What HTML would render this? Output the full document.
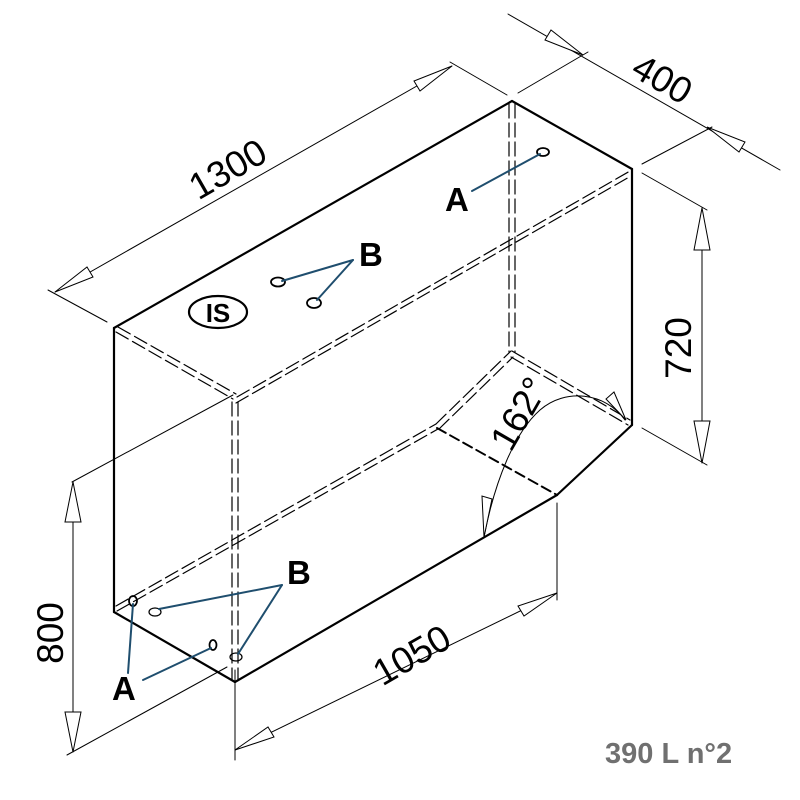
<!DOCTYPE html>
<html><head><meta charset="utf-8"><style>
html,body{margin:0;padding:0;background:#fff;}
svg{display:block;}
.t{font-family:"Liberation Sans",sans-serif;}
</style></head><body>
<svg width="800" height="800" viewBox="0 0 800 800" xmlns="http://www.w3.org/2000/svg">
<g fill="none" stroke="#000" stroke-linecap="round">
<g stroke-width="2.2">
<line x1="114" y1="328" x2="512" y2="101"/>
<line x1="512" y1="101" x2="632" y2="169"/>
<line x1="114" y1="328" x2="114" y2="612"/>
<line x1="632" y1="169" x2="632" y2="425"/>
<line x1="114" y1="612" x2="235" y2="682"/>
<line x1="235" y1="682" x2="557" y2="495"/>
<line x1="557" y1="495" x2="632" y2="425"/>
</g>
<g stroke-width="1.2" stroke-dasharray="14,5">
<line x1="116" y1="332" x2="233" y2="399"/>
<line x1="118" y1="327" x2="236" y2="394"/>
<line x1="237" y1="397" x2="630" y2="171"/>
<line x1="236" y1="403" x2="631" y2="176"/>
<line x1="232" y1="402" x2="232" y2="680"/>
<line x1="238" y1="402" x2="238" y2="680"/>
<line x1="509" y1="104" x2="509" y2="352"/>
<line x1="515" y1="104" x2="515" y2="352"/>
<line x1="116" y1="606" x2="436" y2="424"/>
<line x1="117" y1="611" x2="438" y2="429"/>
<line x1="436" y1="424" x2="511" y2="351"/>
<line x1="439" y1="429" x2="513" y2="357"/>
<line x1="512" y1="351" x2="630" y2="420"/>
<line x1="511" y1="357" x2="628" y2="425"/>
</g>
<line x1="437" y1="428" x2="557" y2="495" stroke-width="2" stroke-dasharray="10,5"/>
<g stroke-width="1">
<line x1="48" y1="290" x2="107" y2="322"/>
<line x1="450" y1="62" x2="507" y2="95"/>
<line x1="55" y1="292" x2="452" y2="66"/>
<line x1="518" y1="93" x2="588" y2="52"/>
<line x1="642" y1="164" x2="712" y2="127"/>
<line x1="508" y1="14" x2="780" y2="170"/>
<line x1="642" y1="173" x2="707" y2="210"/>
<line x1="642" y1="428" x2="707" y2="465"/>
<line x1="702" y1="208" x2="702" y2="463"/>
<line x1="72" y1="482" x2="233" y2="395"/>
<line x1="67" y1="755" x2="227" y2="667"/>
<line x1="73" y1="482" x2="73" y2="752"/>
<line x1="235" y1="670" x2="235" y2="760"/>
<line x1="557" y1="503" x2="557" y2="600"/>
<line x1="235" y1="750" x2="557" y2="593"/>
<path d="M625 420 C605 392 565 388 540 410 C515 432 495 480 484 537"/>
</g>
<g stroke-width="1" fill="#fff">
<polygon points="55,292 93,277 87,267"/>
<polygon points="452,66 420,91 414,81"/>
<polygon points="583,55 545,40 551,30"/>
<polygon points="707,127 739,152 745,142"/>
<polygon points="702,208 694,250 710,250"/>
<polygon points="702,463 694,421 710,421"/>
<polygon points="73,482 65,522 81,522"/>
<polygon points="73,752 65,712 81,712"/>
<polygon points="235,750 274,737 268,727"/>
<polygon points="557,593 524,616 518,606"/>
<polygon points="484,537 482,496 492,499"/>
<polygon points="626,420 614,392 606,399"/>
</g>
<g stroke-width="1.8">
<ellipse cx="543" cy="152" rx="6" ry="4"/>
<ellipse cx="278" cy="282" rx="7" ry="4.5"/>
<ellipse cx="314" cy="303" rx="7" ry="5"/>
<ellipse cx="133" cy="601" rx="4" ry="5"/>
<ellipse cx="213" cy="645" rx="3.5" ry="5"/>
<ellipse cx="155" cy="612" rx="6" ry="4" stroke-width="1.2"/>
<ellipse cx="236" cy="657" rx="6" ry="4" stroke-width="1.2"/>
<ellipse cx="218" cy="312" rx="29" ry="16" stroke-width="2.2"/>
</g>
<g stroke="#1f4e6e" stroke-width="2">
<line x1="472" y1="191" x2="540" y2="154"/>
<line x1="353" y1="260" x2="282" y2="281"/>
<line x1="353" y1="260" x2="317" y2="300"/>
<line x1="282" y1="585" x2="159" y2="609"/>
<line x1="282" y1="585" x2="238" y2="654"/>
<line x1="128" y1="673" x2="133" y2="604"/>
<line x1="143" y1="680" x2="211" y2="648"/>
</g>
</g>
<g class="t" fill="#000">
<text x="445" y="211" font-size="33" font-weight="bold">A</text>
<text x="359" y="266" font-size="33" font-weight="bold">B</text>
<text x="287" y="584" font-size="33" font-weight="bold">B</text>
<text x="112" y="700" font-size="33" font-weight="bold">A</text>
<text x="218" y="322" font-size="26" font-weight="bold" text-anchor="middle">IS</text>
<text x="0" y="0" font-size="37" text-anchor="middle" transform="translate(234,180) rotate(-30)">1300</text>
<text x="0" y="0" font-size="37" text-anchor="middle" transform="translate(656,90) rotate(30)">400</text>
<text x="0" y="0" font-size="37" text-anchor="middle" transform="translate(691,348) rotate(-90)">720</text>
<text x="0" y="0" font-size="37" text-anchor="middle" transform="translate(63,633) rotate(-90)">800</text>
<text x="0" y="0" font-size="37" text-anchor="middle" transform="translate(418,666) rotate(-30)">1050</text>
<text x="0" y="0" font-size="37" text-anchor="middle" transform="translate(530,420) rotate(-60)">162°</text>
<text x="605" y="763" font-size="29" font-weight="bold" fill="#707070">390 L n°2</text>
</g>
</svg>
</body></html>
